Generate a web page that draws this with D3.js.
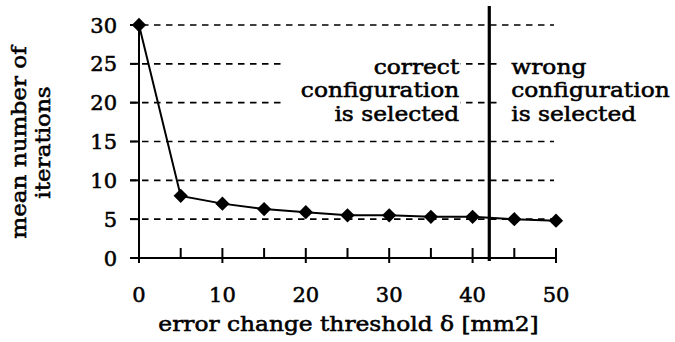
<!DOCTYPE html>
<html>
<head>
<meta charset="utf-8">
<script src="https://cdn.jsdelivr.net/npm/d3@7"></script>
<style>
  html, body { margin: 0; padding: 0; background: #fff; }
  svg text { font-family: "DejaVu Serif", serif; fill: #000; stroke: #000; stroke-width: 0.55px; }
</style>
</head>
<body>
<svg id="chart" width="675" height="342"></svg>
<script>
// error change threshold δ [mm2]
const thresholds = [0, 5, 10, 15, 20, 25, 30, 35, 40, 45, 50];
// mean number of iterations
const meanIterations = [30, 8.0, 7.0, 6.3, 5.9, 5.5, 5.5, 5.3, 5.3, 5.0, 4.8];
const yTicks = [0, 5, 10, 15, 20, 25, 30];
const xMajorTicks = [0, 10, 20, 30, 40, 50];
const xMinorTicks = [5, 15, 25, 35, 45];
const selectionLimit = 42;
const leftNote = ["correct", "configuration", "is selected"];
const rightNote = ["wrong", "configuration", "is selected"];

const W = 675, H = 342;
const margin = { top: 25, right: 119, bottom: 84, left: 139 };
const svg = d3.select("#chart");
svg.append("rect").attr("width", W).attr("height", H).attr("fill", "#fff");

const x = d3.scaleLinear().domain([0, 50]).range([margin.left, W - margin.right]);
const y = d3.scaleLinear().domain([0, 30]).range([H - margin.bottom, margin.top]);

// wide serif look: glyphs stretched horizontally around their anchor point
const wide = 1.11;
const at = (px, py) => `translate(${px},${py}) scale(${wide},1)`;

// dashed horizontal gridlines
svg.append("g").selectAll("line").data(yTicks.filter(d => d > 0)).join("line")
  .attr("x1", x(0) - 9).attr("x2", x(50) - 2)
  .attr("y1", d => y(d)).attr("y2", d => y(d))
  .attr("stroke", "#000").attr("stroke-width", 1.6)
  .attr("stroke-dasharray", "6.5,5.5");

// note boxes sit above the gridlines
const lineH = 23.5;
const noteTop = y(25) - 20;
const xl = x(selectionLimit);
svg.append("rect").attr("x", xl - 205).attr("y", noteTop).attr("width", 176).attr("height", 78).attr("fill", "#fff");
svg.append("rect").attr("x", xl + 9).attr("y", noteTop).attr("width", 180).attr("height", 78).attr("fill", "#fff");

const fs = 21;
svg.append("g").selectAll("text").data(leftNote).join("text")
  .attr("transform", (d, i) => at(xl - 30, y(25) + 10 + i * lineH))
  .attr("text-anchor", "end").attr("font-size", fs).text(d => d);
svg.append("g").selectAll("text").data(rightNote).join("text")
  .attr("transform", (d, i) => at(xl + 22, y(25) + 10 + i * lineH))
  .attr("text-anchor", "start").attr("font-size", fs).text(d => d);

// axes
const axes = svg.append("g").attr("stroke", "#000").attr("stroke-width", 2);
axes.append("line").attr("x1", x(0)).attr("x2", x(0)).attr("y1", y(30)).attr("y2", y(0) + 5);
axes.append("line").attr("x1", x(0) - 9).attr("x2", x(50)).attr("y1", y(0)).attr("y2", y(0));
axes.selectAll(".yt").data(yTicks).join("line").attr("class", "yt")
  .attr("x1", x(0) - 9).attr("x2", x(0)).attr("y1", d => y(d)).attr("y2", d => y(d));
axes.selectAll(".xM").data(xMajorTicks).join("line").attr("class", "xM")
  .attr("x1", d => x(d)).attr("x2", d => x(d)).attr("y1", y(0) - 10).attr("y2", y(0) + 5);
axes.selectAll(".xm").data(xMinorTicks).join("line").attr("class", "xm")
  .attr("x1", d => x(d)).attr("x2", d => x(d)).attr("y1", y(0) - 10).attr("y2", y(0));

// tick labels
svg.append("g").selectAll("text").data(yTicks).join("text")
  .attr("x", x(0) - 22).attr("y", d => y(d) + 7.5)
  .attr("text-anchor", "end").attr("font-size", 21).text(d => d);
svg.append("g").selectAll("text").data(xMajorTicks).join("text")
  .attr("x", d => x(d)).attr("y", y(0) + 44)
  .attr("text-anchor", "middle").attr("font-size", 21).text(d => d);

// axis titles
svg.append("text").attr("transform", at((x(0) + x(50)) / 2 + 1, H - 11))
  .attr("text-anchor", "middle").attr("font-size", 21)
  .text("error change threshold δ [mm2]");
const yt = svg.append("text")
  .attr("transform", `translate(26,${(y(0) + y(30)) / 2 + 1}) rotate(-90) scale(1.1,1)`)
  .attr("text-anchor", "middle").attr("font-size", 21);
yt.append("tspan").attr("x", 0).attr("y", 0).text("mean number of");
yt.append("tspan").attr("x", 0).attr("y", 24).text("iterations");

// series
const pts = thresholds.map((t, i) => [t, meanIterations[i]]);
svg.append("path").datum(pts)
  .attr("d", d3.line().x(d => x(d[0])).y(d => y(d[1])))
  .attr("fill", "none").attr("stroke", "#000").attr("stroke-width", 2);
svg.append("g").selectAll("path").data(pts).join("path")
  .attr("transform", d => `translate(${x(d[0])},${y(d[1])})`)
  .attr("d", d3.symbol(d3.symbolDiamond2, 130)())
  .attr("fill", "#000");

// selection limit
svg.append("line").attr("x1", xl).attr("x2", xl).attr("y1", 6).attr("y2", y(0) + 3)
  .attr("stroke", "#000").attr("stroke-width", 3.2);
</script>
</body>
</html>
